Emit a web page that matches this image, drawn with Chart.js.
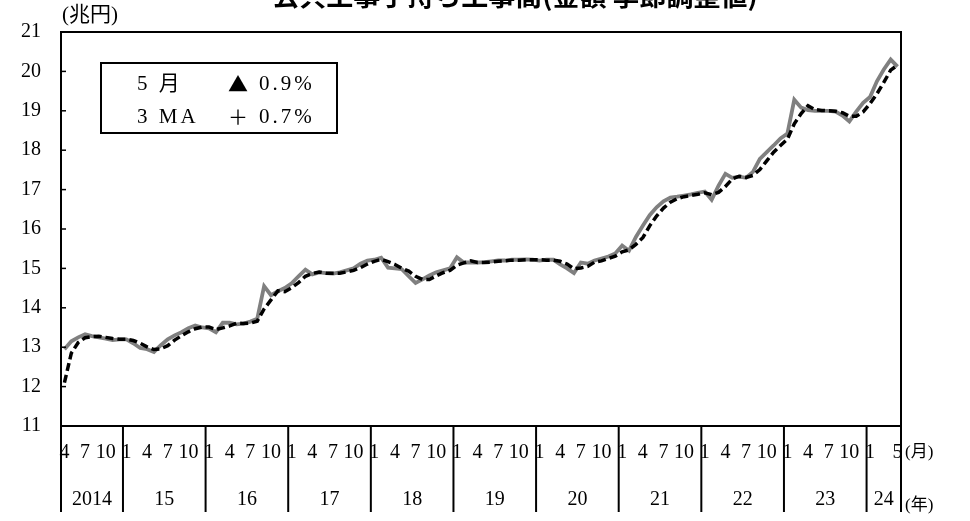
<!DOCTYPE html>
<html lang="ja">
<head>
<meta charset="utf-8">
<title>公共工事手持ち工事高</title>
<script src="https://cdn.jsdelivr.net/npm/chart.js@4.4.1/dist/chart.umd.min.js"></script>
<style>
  html, body { margin: 0; padding: 0; background: #fff; }
  #wrap { position: relative; width: 970px; height: 521px; }
</style>
</head>
<body>
<div id="wrap"><canvas id="chart" width="970" height="521"></canvas></div>
<script>
/* 公共工事手持ち工事高（金額 季節調整値）, 2014年4月〜2024年5月, 兆円 */

var startYear = 2014;
var startMonth = 4;
var yearLabels = ['2014', '15', '16', '17', '18', '19', '20', '21', '22', '23', '24'];
var monthTicks = [1, 4, 7, 10];
var yTicks = [11, 12, 13, 14, 15, 16, 17, 18, 19, 20, 21];

// 月次（季節調整値）
var monthly = [
  12.95, 13.15, 13.25, 13.33, 13.28, 13.25, 13.22, 13.18, 13.2,               // 2014 (4-12)
  13.2, 13.1, 12.98, 12.95, 12.88, 13.05, 13.2, 13.3, 13.38, 13.48, 13.55, 13.5,  // 2015
  13.48, 13.38, 13.62, 13.62, 13.58, 13.6, 13.65, 13.72, 14.55, 14.32, 14.42, 14.5, // 2016
  14.62, 14.8, 14.97, 14.85, 14.9, 14.88, 14.87, 14.9, 14.95, 15.0, 15.12, 15.2,   // 2017
  15.22, 15.27, 15.02, 15.0, 14.98, 14.8, 14.63, 14.72, 14.82, 14.9, 14.95, 15.0,  // 2018
  15.28, 15.15, 15.15, 15.15, 15.16, 15.18, 15.2, 15.2, 15.22, 15.22, 15.23, 15.22, // 2019
  15.2, 15.22, 15.22, 15.1, 15.0, 14.88, 15.15, 15.12, 15.2, 15.25, 15.3, 15.38,   // 2020
  15.58, 15.45, 15.8, 16.08, 16.35, 16.55, 16.7, 16.8, 16.82, 16.85, 16.88, 16.92, // 2021
  16.95, 16.74, 17.1, 17.4, 17.3, 17.33, 17.3, 17.45, 17.78, 17.95, 18.12, 18.3,   // 2022
  18.42, 19.28, 19.08, 19.02, 19.0, 19.0, 19.0, 18.98, 18.88, 18.73, 18.98, 19.2,  // 2023
  19.35, 19.75, 20.05, 20.3, 20.12                                               // 2024 (1-5)
];

// 3ヶ月移動平均
var ma3 = [
  12.1, 12.85, 13.12, 13.24, 13.27, 13.28, 13.25, 13.22, 13.2,
  13.2, 13.17, 13.1, 13.01, 12.94, 12.96, 13.04, 13.18, 13.29, 13.39, 13.47, 13.51,
  13.51, 13.45, 13.49, 13.54, 13.61, 13.6, 13.61, 13.66, 13.97, 14.2, 14.43, 14.41,
  14.51, 14.64, 14.8, 14.87, 14.91, 14.88, 14.88, 14.88, 14.91, 14.95, 15.02, 15.11,
  15.18, 15.23, 15.17, 15.1, 15.0, 14.93, 14.8, 14.72, 14.72, 14.81, 14.89, 14.95,
  15.08, 15.14, 15.19, 15.15, 15.15, 15.16, 15.18, 15.19, 15.21, 15.21, 15.22, 15.22,
  15.22, 15.21, 15.21, 15.18, 15.11, 14.99, 15.01, 15.05, 15.16, 15.19, 15.25, 15.31,
  15.42, 15.47, 15.61, 15.78, 16.08, 16.33, 16.53, 16.68, 16.77, 16.82, 16.85, 16.88,
  16.92, 16.87, 16.93, 17.08, 17.27, 17.34, 17.31, 17.36, 17.51, 17.73, 17.95, 18.12,
  18.28, 18.67, 18.93, 19.13, 19.03, 19.01, 19.0, 18.99, 18.95, 18.86, 18.86, 18.97,
  19.18, 19.43, 19.72, 20.03, 20.16
];

// 注記: ラベル, 符号, 前月比
var noteRows = [['5 月', '▲', '0.9%'], ['3 MA', '＋', '0.7%']];

(function () {
  'use strict';

  var SERIF = "'Liberation Serif', 'Noto Sans CJK JP', serif";

  // categories: year/month for every point
  var categories = [];
  var monthOf = [];
  var yearOf = [];
  for (var i = 0; i < monthly.length; i++) {
    var m = (startMonth - 1 + i) % 12 + 1;
    var y = startYear + Math.floor((startMonth - 1 + i) / 12);
    categories.push(y + '/' + m);
    monthOf.push(m);
    yearOf.push(y);
  }
  var lastIdx = monthly.length - 1;

  var decorations = {
    id: 'decorations',
    afterDraw: function (chart) {
      var ctx = chart.ctx;
      var area = chart.chartArea;
      var xs = chart.scales.x;
      var ys = chart.scales.y;
      var slot = xs.getPixelForValue(1) - xs.getPixelForValue(0);

      ctx.save();
      ctx.strokeStyle = '#000';
      ctx.fillStyle = '#000';

      // plot frame
      ctx.lineWidth = 2;
      ctx.strokeRect(area.left, area.top, area.right - area.left, area.bottom - area.top);

      // inner ticks on the value axis
      ctx.lineWidth = 1.5;
      ys.ticks.forEach(function (t) {
        var py = ys.getPixelForValue(t.value);
        ctx.beginPath();
        ctx.moveTo(area.left, py);
        ctx.lineTo(area.left + 5, py);
        ctx.stroke();
      });

      // year dividers and year labels
      ctx.lineWidth = 2;
      ctx.font = '20px ' + SERIF;
      ctx.textAlign = 'center';
      ctx.textBaseline = 'middle';
      yearLabels.forEach(function (lbl, k) {
        var yr = startYear + k;
        var first = yearOf.indexOf(yr);
        var last = yearOf.lastIndexOf(yr);
        var x0 = xs.getPixelForValue(first) - slot / 2;
        var x1 = xs.getPixelForValue(last) + slot / 2;
        ctx.beginPath();
        ctx.moveTo(x0, area.bottom);
        ctx.lineTo(x0, area.bottom + 86);
        ctx.stroke();
        if (k === yearLabels.length - 1) {
          ctx.beginPath();
          ctx.moveTo(x1, area.bottom);
          ctx.lineTo(x1, area.bottom + 86);
          ctx.stroke();
        }
        ctx.fillText(lbl, (x0 + x1) / 2, area.bottom + 74);
      });

      // unit labels
      ctx.textAlign = 'left';
      ctx.font = '17px ' + SERIF;
      ctx.fillText('(月)', area.right + 4, area.bottom + 27);
      ctx.fillText('(年)', area.right + 4, area.bottom + 80);
      ctx.font = '21px ' + SERIF;
      ctx.fillText('(兆円)', area.left + 1, 15);

      // title (partly above the page)
      ctx.textAlign = 'center';
      ctx.font = "bold 27px 'Noto Sans CJK JP', sans-serif";
      ctx.fillText('公共工事手持ち工事高(金額 季節調整値)', 515, -4);

      // note box
      var bx = 101, by = 63, bw = 236, bh = 70;
      ctx.fillStyle = '#fff';
      ctx.fillRect(bx, by, bw, bh);
      ctx.lineWidth = 2;
      ctx.strokeRect(bx, by, bw, bh);
      ctx.fillStyle = '#000';
      ctx.textAlign = 'left';
      noteRows.forEach(function (row, r) {
        var ty = by + 21 + r * 33;
        if ('letterSpacing' in ctx) ctx.letterSpacing = '3px';
        ctx.font = '21px ' + SERIF;
        ctx.fillText(row[0], bx + 36, ty);
        ctx.fillText(row[2], bx + 158, ty);
        if ('letterSpacing' in ctx) ctx.letterSpacing = '0px';
        ctx.font = "20px 'Noto Sans CJK JP', sans-serif";
        ctx.fillText(row[1], bx + 127, ty);
      });

      ctx.restore();
    }
  };

  new Chart(document.getElementById('chart').getContext('2d'), {
    type: 'line',
    data: {
      labels: categories,
      datasets: [{
        label: '3MA',
        data: ma3,
        borderColor: '#000',
        borderWidth: 3.5,
        borderDash: [8, 4],
        pointRadius: 0,
        tension: 0,
        fill: false,
        order: 1
      }, {
        label: '月次',
        data: monthly,
        borderColor: '#808080',
        borderWidth: 3.8,
        pointRadius: 0,
        tension: 0,
        fill: false,
        order: 2
      }]
    },
    options: {
      responsive: false,
      animation: false,
      devicePixelRatio: 1,
      layout: { padding: { top: 31, right: 69, bottom: 0, left: 0 } },
      plugins: {
        legend: { display: false },
        tooltip: { enabled: false },
        title: { display: false }
      },
      scales: {
        x: {
          type: 'category',
          offset: true,
          grid: { display: false, drawTicks: false },
          border: { display: false },
          ticks: {
            autoSkip: false,
            maxRotation: 0,
            minRotation: 0,
            padding: 15,
            color: '#000',
            font: { family: SERIF, size: 20 },
            callback: function (val, idx) {
              var m = monthOf[idx];
              if (idx === lastIdx) return String(m);
              if (monthTicks.indexOf(m) >= 0 && lastIdx - idx > 1) return String(m);
              return '';
            }
          },
          afterFit: function (scale) { scale.height = 95; }
        },
        y: {
          min: yTicks[0],
          max: yTicks[yTicks.length - 1],
          grid: { display: false, drawTicks: false },
          border: { display: false },
          afterBuildTicks: function (scale) {
            scale.ticks = yTicks.map(function (v) { return { value: v }; });
          },
          ticks: {
            padding: 20,
            color: '#000',
            font: { family: SERIF, size: 20 }
          },
          afterFit: function (scale) { scale.width = 61; }
        }
      }
    },
    plugins: [decorations]
  });
})();
</script>
</body>
</html>
